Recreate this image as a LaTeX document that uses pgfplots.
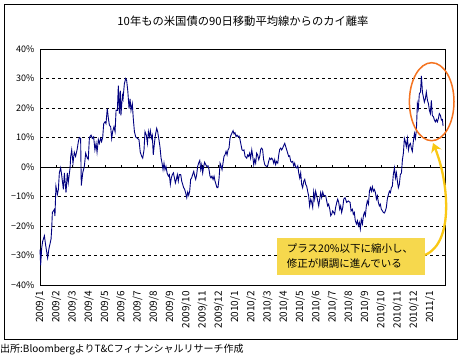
\documentclass[border=0pt]{standalone}
\usepackage{fontspec}
\setmainfont{Noto Sans CJK JP}
\usepackage{pgfplots}
\pgfplotsset{compat=1.18}
\usetikzlibrary{arrows.meta}
\definecolor{navyline}{RGB}{0,0,128}
\definecolor{boxyellow}{RGB}{246,216,77}
\definecolor{arrowyellow}{RGB}{250,200,20}
\definecolor{ellorange}{RGB}{244,115,32}
\begin{document}
\begin{tikzpicture}
\useasboundingbox (0,0) rectangle (465pt,360pt);
\fill[white] (0,0) rectangle (465pt,360pt);
\draw[black, line width=0.9pt] (4.5pt,20.5pt) rectangle (457pt,356pt);
\node[font=\fontsize{11.3}{13}\selectfont] at (243pt,339pt) {10年もの米国債の90日移動平均線からのカイ離率};
\node[anchor=west, inner sep=0pt, font=\fontsize{10}{12}\selectfont] at (0pt,10pt) {出所:BloombergよりT\&Cフィナンシャルリサーチ作成};
\begin{axis}[
  at={(40pt,75pt)}, anchor=south west,
  scale only axis, width=405pt, height=236pt,
  xmin=0, xmax=24.92, ymin=-40, ymax=40,
  xtick={0,...,24},
  xticklabels={2009/1,2009/2,2009/3,2009/4,2009/5,2009/6,2009/7,2009/8,2009/9,2009/10,2009/11,2009/12,2010/1,2010/2,2010/3,2010/4,2010/5,2010/6,2010/7,2010/8,2010/9,2010/10,2010/11,2010/12,2011/1},
  ytick={-40,-30,-20,-10,0,10,20,30,40},
  yticklabels={−40\%,−30\%,−20\%,−10\%,0\%,10\%,20\%,30\%,40\%},
  major tick length=0pt,
  xticklabel style={rotate=90, anchor=east, font=\fontsize{10}{11}\selectfont},
  yticklabel style={font=\fontsize{9}{10}\selectfont},
  xticklabel shift=2.5pt,
  yticklabel shift=2pt,
  ymajorgrids,
  major grid style={black, line width=0.6pt, dash pattern=on 3pt off 3pt},
  axis line style={black, line width=0.9pt},
  clip=false,
]
\draw[black, line width=0.8pt] (axis cs:0,0) -- (axis cs:24.92,0);
\pgfplotsinvokeforeach{1,...,24}{\draw[black, line width=0.6pt] (axis cs:#1,0) -- ++(0pt,2.5pt);}
\addplot[navyline, line width=0.9pt, mark=none] table {
x y
0.00 -28
0.04 -33.3
0.10 -27.7
0.16 -25.3
0.27 -23.3
0.35 -26.6
0.47 -30.8
0.55 -27.7
0.68 -24.4
0.72 -21
0.76 -15.4
0.88 -14.4
0.92 -16.6
0.98 -6.5
1.07 -9.3
1.13 -7.6
1.19 -2
1.27 -0.3
1.33 -2.6
1.44 -7.6
1.50 -2
1.60 -8.7
1.68 -2
1.74 -5.3
1.85 -0.3
1.89 3.6
1.95 5.8
2.03 1.3
2.11 5.0
2.19 3.6
2.28 5.8
2.36 8.6
2.42 10.0
2.50 9.7
2.54 -6.3
2.63 -2
2.73 0.3
2.81 4.7
2.91 3.0
2.97 2.6
3.04 10
3.14 10.8
3.22 9.7
3.30 10.2
3.38 5.8
3.45 8.0
3.51 5.0
3.59 9.3
3.65 8.0
3.73 9.7
3.79 8.6
3.86 10.2
3.92 14.7
4.00 15.3
4.06 14.7
4.14 19.8
4.21 16.4
4.27 14.2
4.35 13.6
4.41 9.7
4.47 12
4.55 13.6
4.62 12
4.68 19.2
4.76 19.2
4.82 27.6
4.88 18.1
4.94 25.9
4.98 17.5
5.07 24.2
5.11 23.1
5.19 28.2
5.27 30
5.33 29.4
5.40 25.9
5.48 19.8
5.54 23.1
5.60 19.2
5.68 21.4
5.74 16.4
5.81 12
5.89 10.2
5.99 9.7
6.09 9.3
6.17 5.0
6.26 3.6
6.32 3.0
6.40 5.8
6.46 12
6.54 10.8
6.61 8.0
6.67 12
6.73 10.3
6.79 12.3
6.85 9.7
6.91 10.8
6.97 4.1
7.04 8
7.10 10.8
7.18 13.1
7.24 12
7.32 9.2
7.38 6.9
7.45 3
7.51 1.3
7.57 -0.9
7.63 1.3
7.69 -0.9
7.75 0.2
7.82 -2
7.90 -3.1
7.96 -2.6
8.02 -5.9
8.08 -3.7
8.14 -2.6
8.21 -2
8.27 -3.7
8.33 -5.4
8.39 -4.2
8.45 -2.6
8.51 -4.8
8.57 -2.6
8.66 -2.6
8.72 -4.8
8.78 -5.9
8.84 -7
8.90 -7.6
8.96 -8.7
9.03 -10.4
9.09 -8.5
9.15 -9.6
9.21 -8.2
9.27 -4.2
9.33 -3.7
9.39 -2.6
9.46 -1.5
9.52 -3.1
9.58 -4.2
9.64 -2.6
9.70 0.2
9.76 1.3
9.83 2.2
9.89 -0.9
9.95 0.8
10.01 -2
10.07 0.2
10.13 1.6
10.20 0.8
10.26 0.2
10.34 0.4
10.40 -0.9
10.46 -3.1
10.52 -3.7
10.58 -3.1
10.65 -4.2
10.71 -3.1
10.77 -4.8
10.83 -5.9
10.89 -7
10.95 -7
11.02 -3.7
11.08 1.3
11.14 0.4
11.20 -0.9
11.26 1.3
11.32 3.6
11.38 4.1
11.45 5.3
11.51 4.1
11.57 5.8
11.63 6.4
11.69 9.7
11.75 10.8
11.82 11.6
11.88 12.3
11.94 11.2
12.00 11.6
12.06 10.3
12.12 10.8
12.18 10.3
12.25 10.5
12.31 9.2
12.37 7.5
12.43 5.8
12.49 5.6
12.55 5.8
12.62 3.6
12.72 3.0
12.78 4.1
12.84 3.6
12.90 4.7
12.96 3.0
13.03 5.8
13.09 3.6
13.15 0.8
13.21 2.5
13.27 1.3
13.33 4.7
13.39 4.1
13.46 2.5
13.52 3.6
13.58 6.0
13.64 6.4
13.70 5.8
13.76 2.5
13.83 0.8
13.89 0.4
13.95 0.2
14.01 0.4
14.07 1.9
14.13 3.0
14.20 2.5
14.26 3.0
14.32 2.5
14.38 1.3
14.44 2.5
14.50 0.8
14.56 1.9
14.63 1.3
14.69 4.1
14.75 6.0
14.81 6.4
14.87 5.8
14.93 6.4
14.99 7.2
15.06 8.0
15.12 6.9
15.18 5.8
15.24 4.7
15.30 3.6
15.36 3.8
15.43 1.9
15.49 1.6
15.55 1.9
15.61 0.4
15.67 1.3
15.73 0
15.79 -0.3
15.86 0.4
15.92 -2
15.98 -3.7
16.04 -2
16.10 -5.9
16.16 -7
16.23 -4.8
16.29 -4.2
16.35 -5.9
16.41 -6.5
16.47 -8.2
16.53 -9.8
16.59 -13.2
16.66 -10.9
16.72 -12
16.78 -13.7
16.84 -8.5
16.90 -10.9
16.96 -8.2
17.03 -9.8
17.09 -11.5
17.15 -13.2
17.21 -10.9
17.27 -8.7
17.33 -10.4
17.40 -8.5
17.46 -9.8
17.52 -9.6
17.58 -9.8
17.64 -11.5
17.70 -13.2
17.76 -12.6
17.83 -14.3
17.89 -16.5
17.95 -16
18.01 -14.9
18.07 -15.4
18.13 -16
18.19 -13.7
18.26 -12
18.32 -10.9
18.38 -12
18.44 -14.3
18.50 -13.2
18.56 -15.4
18.63 -13.7
18.69 -10.9
18.77 -10.4
18.87 -12
18.97 -11.5
19.08 -12
19.14 -14.9
19.22 -14.3
19.28 -16
19.34 -15.4
19.40 -18.2
19.47 -19.3
19.53 -18.2
19.59 -19.9
19.65 -18.8
19.71 -21
19.77 -17.7
19.84 -19.3
19.90 -16.5
19.96 -15.4
20.02 -16.5
20.08 -13.2
20.14 -11.5
20.21 -12.6
20.27 -8.2
20.33 -7
20.39 -8.2
20.45 -6.7
20.51 -8.2
20.57 -7.6
20.64 -8.7
20.70 -10.9
20.76 -9.8
20.82 -12
20.88 -13.2
20.94 -12.6
21.00 -14.3
21.07 -14.9
21.13 -15.4
21.19 -15.6
21.25 -14.9
21.31 -13.7
21.37 -10.9
21.44 -9.3
21.50 -8.2
21.56 -8.7
21.62 -7
21.68 -6.5
21.74 -2.6
21.81 -0.3
21.87 -3.7
21.93 -2
21.99 -4.8
22.05 -7
22.11 -5.9
22.17 -2.6
22.24 -2
22.30 2.5
22.36 4.7
22.42 9.7
22.48 8.6
22.54 6.9
22.61 9.7
22.67 5.8
22.73 7.5
22.79 8.0
22.85 6.4
22.91 5.3
22.97 8.6
23.04 11.4
23.10 9.7
23.16 12.5
23.22 21.5
23.28 19.8
23.34 24.8
23.41 25.4
23.47 30.9
23.53 25.4
23.59 23.7
23.65 22
23.71 23.1
23.77 25.4
23.84 22.6
23.90 21.5
23.96 19.2
24.02 18.1
24.08 22.6
24.14 17.5
24.21 17
24.27 15.9
24.33 15.3
24.39 16.1
24.45 15.3
24.51 16.4
24.57 18.1
24.64 17.5
24.70 15.9
24.76 16.1
24.80 13.9
};
\end{axis}
\fill[boxyellow] (276.7pt,85pt) rectangle (425pt,121.7pt);
\node[anchor=west, inner sep=0pt, font=\fontsize{10.5}{12}\selectfont] at (286.7pt,111.5pt) {プラス20\%以下に縮小し、};
\node[anchor=west, inner sep=0pt, font=\fontsize{10.5}{12}\selectfont] at (286.7pt,96.7pt) {修正が順調に進んでいる};
\draw[ellorange, line width=1.5pt] (431.7pt,258.3pt) ellipse [x radius=22.3pt, y radius=39pt];
\draw[arrowyellow, line width=2.3pt, -{Stealth[length=9pt,width=11pt]}] (425pt,105pt) .. controls (455pt,118pt) and (448pt,180pt) .. (433pt,217pt);
\end{tikzpicture}
\end{document}
